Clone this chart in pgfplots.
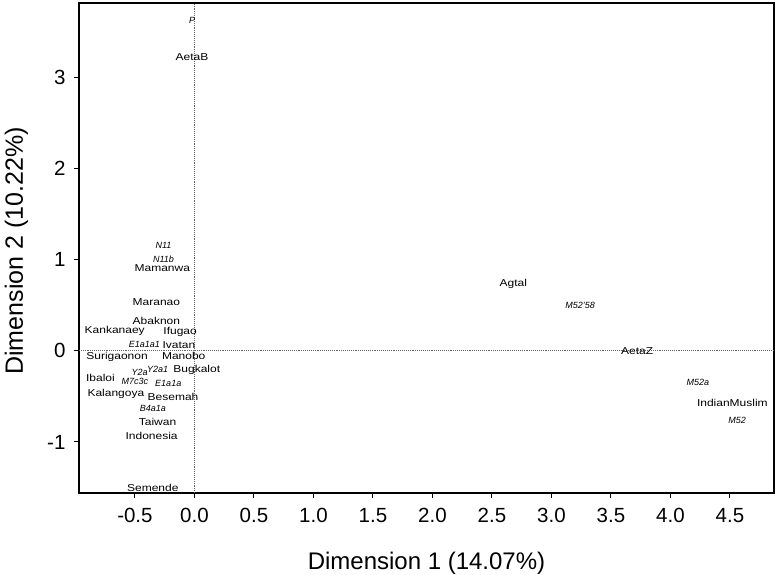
\documentclass[border=0pt]{standalone}
\usepackage{fontspec}
\setmainfont{Liberation Sans}
\newfontfamily\lblfont[FakeStretch=1.2]{Liberation Sans}
\usepackage{pgfplots}
\pgfplotsset{compat=1.18}
\usepackage{pgfplotstable}

% upright labels
\pgfplotstableread{
x y label
-0.02 3.23 AetaB
-0.27 0.91 Mamanwa
-0.32 0.54 Maranao
-0.32 0.33 Abaknon
-0.67 0.22 Kankanaey
-0.12 0.21 Ifugao
-0.13 0.06 Ivatan
-0.65 -0.07 Surigaonon
-0.09 -0.06 Manobo
0.02 -0.21 Bugkalot
-0.79 -0.30 Ibaloi
-0.66 -0.47 Kalangoya
-0.18 -0.50 Besemah
-0.31 -0.78 Taiwan
-0.36 -0.93 Indonesia
-0.35 -1.50 Semende
2.68 0.74 Agtal
3.72 0.00 AetaZ
4.52 -0.57 IndianMuslim
}\popdata

% italic labels (haplogroups)
\pgfplotstableread{
x y label
-0.02 3.63 P
-0.26 1.16 N11
-0.26 1.01 N11b
-0.42 0.07 E1a1a1
-0.46 -0.24 Y2a
-0.31 -0.20 Y2a1
-0.50 -0.34 M7c3c
-0.22 -0.36 E1a1a
-0.35 -0.63 B4a1a
3.24 0.50 M52'58
4.23 -0.35 M52a
4.56 -0.76 M52
}\hapdata

\begin{document}
\begin{tikzpicture}
\useasboundingbox (0,0) rectangle (779pt,574pt);
\begin{axis}[
    at={(79pt,81pt)}, anchor=south west,
    width=695pt, height=490pt, scale only axis,
    xmin=-0.97, xmax=4.87,
    ymin=-1.56, ymax=3.82,
    xtick={-0.5,0,0.5,1,1.5,2,2.5,3,3.5,4,4.5},
    ytick={-1,0,1,2,3},
    xticklabel style={/pgf/number format/.cd, fixed, fixed zerofill, precision=1},
    /pgf/number format/assume math mode=true,
    tick label style={font=\fontsize{20.5}{20.5}\selectfont},
    xtick pos=bottom, ytick pos=left,
    tick align=outside,
    major tick length=5pt,
    tick style={black, line width=1pt},
    axis line style={black, line width=1.6pt},
    xlabel={Dimension 1 (14.07\%)},
    ylabel={Dimension 2 (10.22\%)},
    xlabel style={font=\fontsize{24}{24}\selectfont, at={(axis description cs:0.5,-0.157)}, anchor=base},
    ylabel style={font=\fontsize{25}{25}\selectfont, at={(axis description cs:-0.0806,0.494)}, anchor=base, rotate=0},
    xticklabel shift=7pt,
    yticklabel shift=5pt,
    clip=false,
]
\addplot[gray!80!black, densely dotted, line width=0.9pt] coordinates {(0,-1.56) (0,3.82)};
\addplot[gray!80!black, densely dotted, line width=0.9pt] coordinates {(-0.97,0) (4.87,0)};
\addplot[draw=none, mark=none, nodes near coords, point meta=explicit symbolic,
    nodes near coords align={center},
    every node near coord/.append style={font=\lblfont\fontsize{10}{10}\selectfont, inner sep=0pt}]
    table[x=x, y=y, meta=label] {\popdata};
\addplot[draw=none, mark=none, nodes near coords, point meta=explicit symbolic,
    nodes near coords align={center},
    every node near coord/.append style={font=\itshape\fontsize{9}{9}\selectfont, inner sep=0pt}]
    table[x=x, y=y, meta=label] {\hapdata};
\end{axis}
\end{tikzpicture}
\end{document}
